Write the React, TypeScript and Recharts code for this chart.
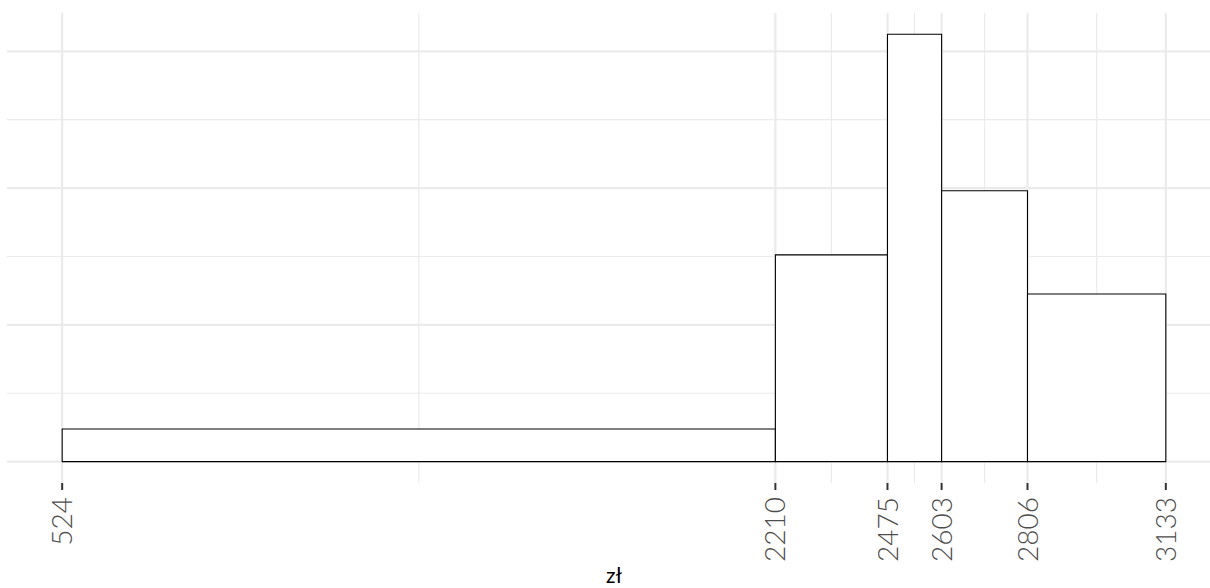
import React from 'react';
import { ComposedChart, XAxis, YAxis, CartesianGrid, ReferenceArea, Line, Label } from 'recharts';

const binStart = [524, 2210, 2475, 2603, 2806];
const binEnd = [2210, 2475, 2603, 2806, 3133];
const density = [0.0001195, 0.000756, 0.0015625, 0.00099, 0.000613];
const xTicks = [524, 2210, 2475, 2603, 2806, 3133];
const xMinorGrid = [1367, 2342.5, 2539, 2704.5, 2969.5];
const yMajorGrid = [0, 0.0005, 0.001, 0.0015];
const yMinorGrid = [0.00025, 0.00075, 0.00125];
const xDomain = [393.55, 3263.45];
const yDomain = [-0.000078, 0.00164];
const xTitle = 'zł';

const data = binStart.map((s, i) => ({ x: (s + binEnd[i]) / 2, y: density[i] }));

const RotTick = (props: any) => {
  const { x, y, payload } = props;
  const ay = y + 5;
  return (
    <text
      x={x}
      y={ay}
      transform={`rotate(-90, ${x}, ${ay})`}
      textAnchor="end"
      dy="0.36em"
      fill="#4d4d4d"
      fontSize={28}
      fontWeight={300}
      fontFamily="Lato"
    >
      {payload.value}
    </text>
  );
};

const TitleLabel = (props: any) => {
  const vb = props.viewBox || {};
  const cx = (vb.x || 0) + (vb.width || 0) / 2;
  const by = (vb.y || 0) + (vb.height || 0) - 5;
  return (
    <text x={cx} y={by} textAnchor="middle" fill="#000" fontSize={21} fontFamily="Lato">
      {xTitle}
    </text>
  );
};

export default function App() {
  return (
    <div
      style={{
        position: 'absolute',
        left: 0,
        top: 0,
        width: 1210,
        height: 588,
        overflow: 'hidden',
        background: '#fff',
      }}
    >
      <ComposedChart
        width={1240}
        height={588}
        data={data}
        margin={{ top: 13, right: 19, bottom: 0, left: 7 }}
        style={{ fontFamily: 'Lato' }}
      >
        <CartesianGrid
          horizontalValues={yMinorGrid}
          verticalValues={xMinorGrid}
          stroke="#ebebeb"
          strokeWidth={1.2}
        />
        <CartesianGrid
          horizontalValues={yMajorGrid}
          verticalValues={xTicks}
          stroke="#ebebeb"
          strokeWidth={2.2}
        />
        <XAxis
          dataKey="x"
          type="number"
          domain={xDomain}
          allowDataOverflow
          ticks={xTicks}
          interval={0}
          tick={<RotTick />}
          tickLine={{ stroke: '#333', strokeWidth: 2 }}
          tickSize={7}
          axisLine={false}
          height={105}
        >
          <Label content={<TitleLabel />} />
        </XAxis>
        <YAxis type="number" domain={yDomain} allowDataOverflow hide />
        {binStart.map((s, i) => (
          <ReferenceArea
            key={i}
            x1={s}
            x2={binEnd[i]}
            y1={0}
            y2={density[i]}
            fill="#ffffff"
            fillOpacity={1}
            stroke="#000"
            strokeWidth={1.1}
          />
        ))}
        <Line dataKey="y" stroke="none" dot={false} activeDot={false} isAnimationActive={false} />
      </ComposedChart>
    </div>
  );
}
